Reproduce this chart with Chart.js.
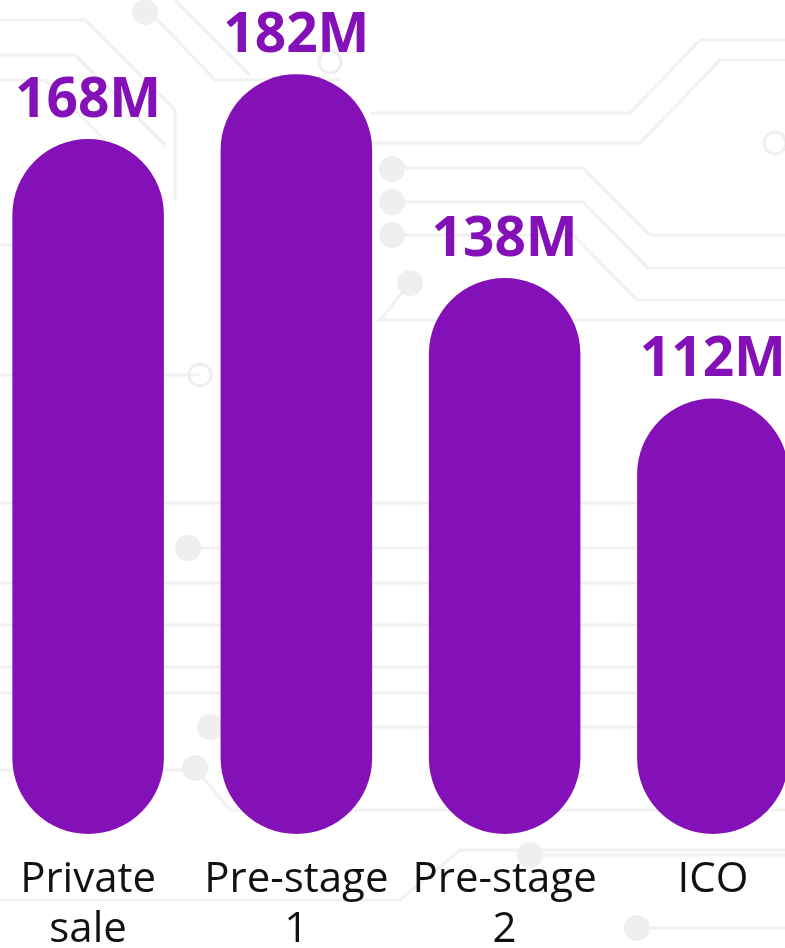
<!DOCTYPE html>
<html>
<head>
<meta charset="utf-8">
<script src="https://cdn.jsdelivr.net/npm/chart.js@4.4.1/dist/chart.umd.min.js"></script>
<style>
  html, body { margin: 0; padding: 0; background: #ffffff; overflow: hidden; width: 785px; height: 948px; }
  #wrap { position: absolute; left: -16px; top: 0; width: 833px; height: 948px; }
</style>
</head>
<body>
<div id="wrap"><canvas id="c" width="833" height="948"></canvas></div>
<script>
// ---- data ----
const categories = [["Private", "sale"], ["Pre-stage", "1"], ["Pre-stage", "2"], ["ICO"]];
const values = [168, 182, 138, 112];
const valueLabels = ["168M", "182M", "138M", "112M"];
const axisMin = 18;
const axisMax = 198;

const PURPLE = "#8411B8";

// decorative circuit-board background (not data)
const circuitBg = {
  id: "circuitBg",
  beforeDraw(chart) {
    const ctx = chart.ctx;
    const ox = 16; // page -> canvas offset
    ctx.save();
    ctx.fillStyle = "#ffffff";
    ctx.fillRect(0, 0, chart.width, chart.height);
    ctx.strokeStyle = "#f1f1f1";
    ctx.lineWidth = 3;
    const paths = [
      [[0, 20], [85, 20], [175, 110], [175, 200]],
      [[0, 55], [75, 55], [165, 145]],
      [[0, 80], [45, 80], [165, 200]],
      [[150, 12], [215, 80], [340, 80]],
      [[175, 0], [250, 75]],
      [[390, 168], [583, 168], [650, 235], [800, 235]],
      [[390, 202], [583, 202], [648, 268], [800, 268]],
      [[390, 235], [573, 235], [637, 300], [800, 300]],
      [[410, 283], [380, 320], [800, 320]],
      [[370, 113], [630, 113], [700, 40], [800, 40]],
      [[370, 143], [640, 143], [720, 60], [800, 60]],
      [[0, 503], [800, 503]],
      [[188, 548], [800, 548]],
      [[0, 583], [800, 583]],
      [[0, 625], [800, 625]],
      [[0, 667], [800, 667]],
      [[0, 693], [800, 693]],
      [[210, 727], [800, 727]],
      [[195, 768], [230, 810], [800, 810]],
      [[0, 770], [200, 770]],
      [[530, 855], [800, 855]],
      [[0, 900], [400, 900], [460, 850], [800, 850]],
      [[637, 928], [800, 928]],
      [[0, 245], [70, 245]],
      [[200, 375], [0, 375]]
    ];
    paths.forEach(p => {
      ctx.beginPath();
      p.forEach((pt, i) => {
        if (i === 0) ctx.moveTo(pt[0] + ox, pt[1]); else ctx.lineTo(pt[0] + ox, pt[1]);
      });
      ctx.stroke();
    });
    ctx.fillStyle = "#efefef";
    [[145, 12], [392, 169], [392, 202], [392, 235], [410, 283], [188, 548], [210, 727], [195, 768], [530, 855], [637, 928]].forEach(d => {
      ctx.beginPath();
      ctx.arc(d[0] + ox, d[1], 13, 0, Math.PI * 2);
      ctx.fill();
    });
    ctx.lineWidth = 3;
    ctx.strokeStyle = "#efefef";
    [[775, 143], [200, 375], [330, 62]].forEach(d => {
      ctx.beginPath();
      ctx.arc(d[0] + ox, d[1], 11, 0, Math.PI * 2);
      ctx.stroke();
    });
    ctx.restore();
  }
};

const valueLabelPlugin = {
  id: "valueLabels",
  afterDatasetsDraw(chart) {
    const ctx = chart.ctx;
    const meta = chart.getDatasetMeta(0);
    ctx.save();
    ctx.fillStyle = PURPLE;
    ctx.font = "bold 55px 'Open Sans'";
    ctx.textAlign = "center";
    ctx.textBaseline = "alphabetic";
    meta.data.forEach((bar, i) => {
      ctx.fillText(valueLabels[i], bar.x, bar.y - 22);
    });
    ctx.restore();
  }
};

new Chart(document.getElementById("c"), {
  type: "bar",
  data: {
    labels: categories,
    datasets: [{
      data: values,
      base: axisMin,
      backgroundColor: PURPLE,
      borderWidth: 0,
      borderRadius: 90,
      borderSkipped: false,
      barPercentage: 1,
      categoryPercentage: 0.7277
    }]
  },
  options: {
    responsive: false,
    animation: false,
    devicePixelRatio: 1,
    layout: { padding: 0 },
    plugins: { legend: { display: false }, tooltip: { enabled: false } },
    scales: {
      x: {
        offset: true,
        grid: { display: false, drawTicks: false },
        border: { display: false },
        ticks: {
          color: "#111111",
          padding: 21,
          maxRotation: 0,
          autoSkip: false,
          font: { family: "'Open Sans'", size: 42, lineHeight: 1.19 }
        },
        afterFit(scale) { scale.height = 114; }
      },
      y: {
        display: false,
        min: axisMin,
        max: axisMax
      }
    }
  },
  plugins: [circuitBg, valueLabelPlugin]
});
</script>
</body>
</html>
